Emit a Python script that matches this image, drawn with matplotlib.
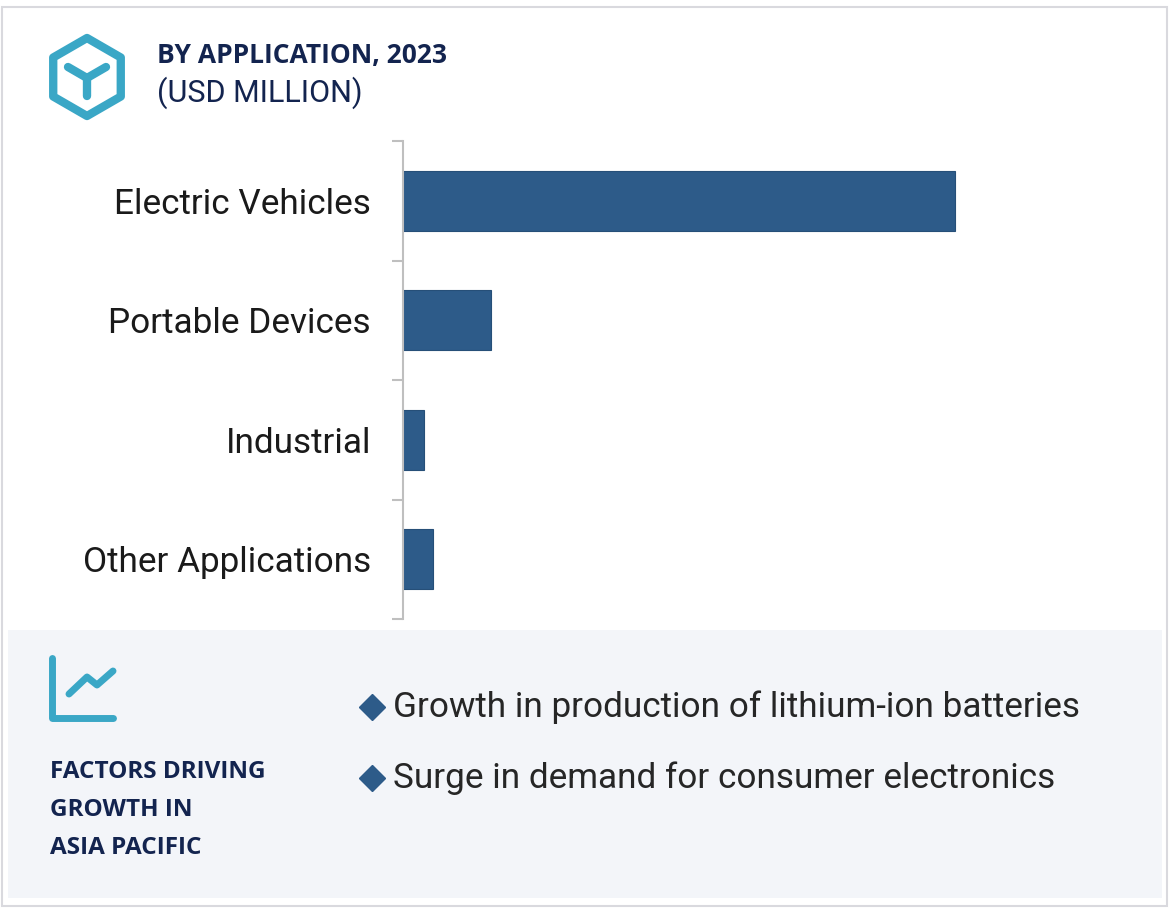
import matplotlib.pyplot as plt
import numpy as np
from matplotlib.patches import Rectangle, RegularPolygon

# data (USD million)
categories = ['Electric Vehicles', 'Portable Devices', 'Industrial', 'Other Applications']
values = [552, 88, 21, 30]
title_main = 'BY APPLICATION, 2023'
title_sub = '(USD MILLION)'
factors = ['Growth in production of lithium-ion batteries',
           'Surge in demand for consumer electronics']
factors_title = ['FACTORS DRIVING', 'GROWTH IN', 'ASIA PACIFIC']

W, H = 1170, 909
BAR = '#2D5B89'
NAVY = '#13244F'
TEAL = '#3AA7C6'

fig = plt.figure(figsize=(W / 100, H / 100), dpi=100)

# full-figure layer in pixel coordinates for the decorations
bg = fig.add_axes([0, 0, 1, 1])
bg.set_xlim(0, W)
bg.set_ylim(H, 0)
bg.axis('off')

bg.add_patch(Rectangle((2, 7), 1165, 899, facecolor='white', edgecolor='#D9D9DE', lw=1.5))
bg.add_patch(Rectangle((8, 630), 1154, 268, facecolor='#F3F5F9', edgecolor='none'))

# hexagon icon
bg.add_patch(RegularPolygon((87, 77), 6, radius=39, orientation=0, facecolor='none',
                            edgecolor=TEAL, lw=6, joinstyle='round'))
cx, cy = 87, 78
for ex, ey in [(68, 67), (106, 67), (87, 96)]:
    bg.plot([cx, ex], [cy, ey], color=TEAL, lw=6, solid_capstyle='round')

# trend icon
bg.plot([52, 52, 113], [658, 718, 718], color=TEAL, lw=5, solid_capstyle='round',
        solid_joinstyle='round')
bg.plot([69, 87, 97, 113], [694, 677, 685, 671], color=TEAL, lw=5,
        solid_capstyle='round', solid_joinstyle='round')

bg.text(157, 56, title_main, fontsize=19, fontweight='bold', color=NAVY,
        family='Open Sans', va='center', ha='left')
bg.text(157, 93, title_sub, fontsize=22, color=NAVY, family='Roboto',
        va='center', ha='left')

for i, line in enumerate(factors_title):
    bg.text(50, 772 + i * 38, line, fontsize=17.5, fontweight='bold', color=NAVY,
            family='Open Sans', va='center', ha='left')

for i, txt in enumerate(factors):
    y = 707 + i * 71
    bg.plot([372], [y], marker='D', markersize=13, color=BAR, mec=BAR)
    bg.text(393, y, txt, fontsize=25.3, color='#262626', family='Roboto',
            va='center', ha='left')

# bar chart
ax = fig.add_axes([403 / W, (H - 619) / H, 700 / W, (619 - 141) / H])
y = np.arange(len(categories))
ax.barh(y, values, height=0.5, color=BAR, edgecolor='#264F78', lw=0.8)
ax.set_ylim(len(categories) - 0.5, -0.5)
ax.set_xlim(0, 700)
ax.set_yticks(y)
ax.set_yticklabels(categories, fontsize=25.3, family='Roboto', color='#1A1A1A',
                   va='center_baseline')
ax.tick_params(axis='y', which='major', length=0, pad=23)
ax.set_yticks(np.arange(-0.5, len(categories), 1), minor=True)
ax.tick_params(axis='y', which='minor', length=8, width=1.5, color='#BFBFBF')
ax.set_xticks([])
for s in ['top', 'right', 'bottom']:
    ax.spines[s].set_visible(False)
ax.spines['left'].set_color('#BFBFBF')
ax.spines['left'].set_linewidth(1.5)
ax.patch.set_alpha(0)

fig.savefig('out.png', dpi=100)
